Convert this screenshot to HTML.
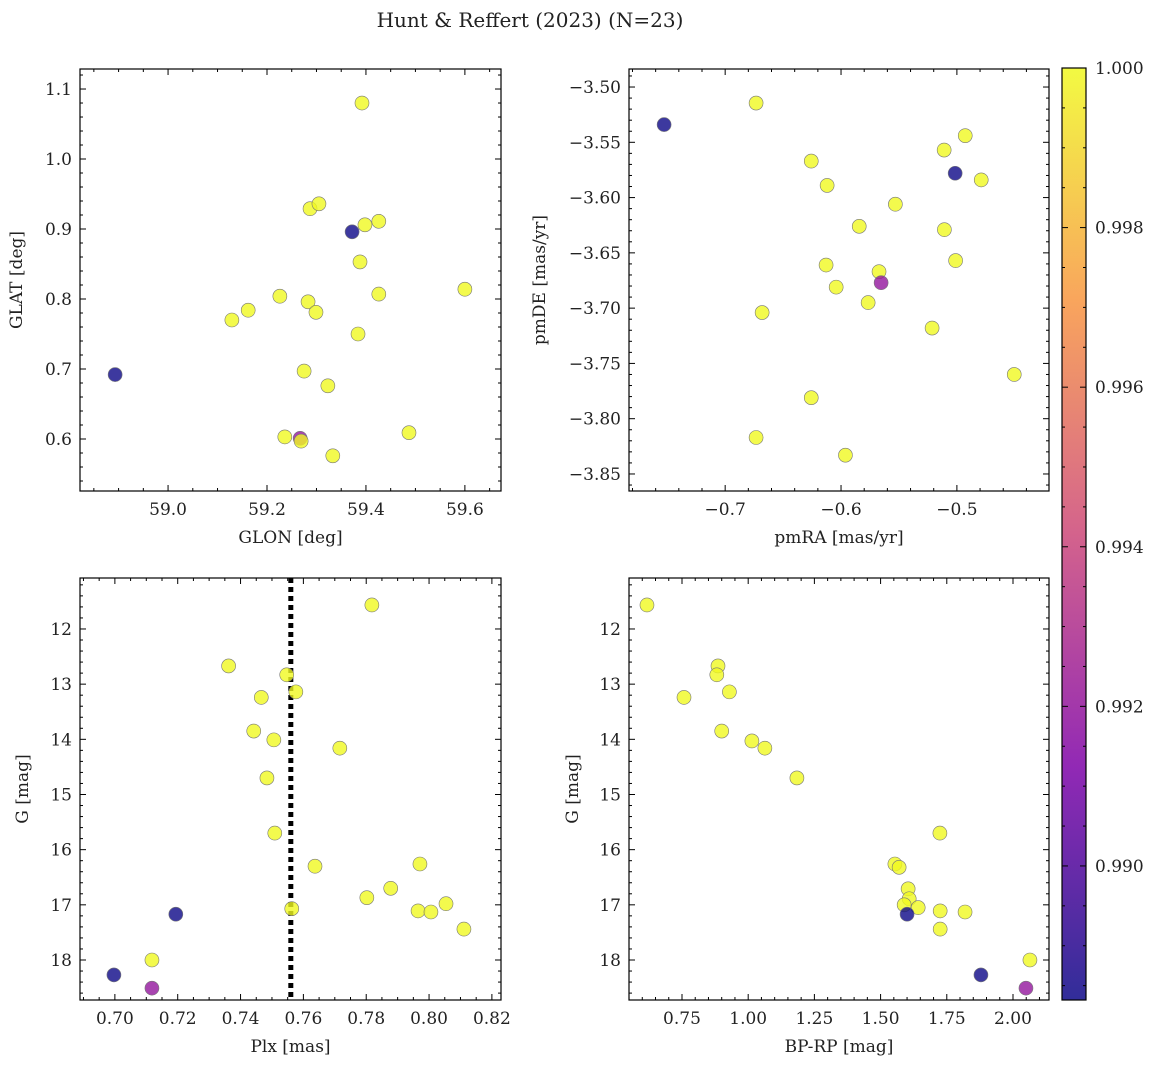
<!DOCTYPE html>
<html><head><meta charset="utf-8"><style>
body{margin:0;background:#fff}
svg text{font-family:"DejaVu Serif","Liberation Serif",serif;fill:#222}
</style></head><body>
<svg id="c" width="1161" height="1068" xmlns="http://www.w3.org/2000/svg">
<text x="530" y="27" font-size="20" text-anchor="middle">Hunt &amp; Reffert (2023) (N=23)</text>
</svg>
<script>
const glon=[59.392,59.287,59.305,59.372,59.398,59.426,59.388,59.226,59.162,59.129,59.283,59.299,59.426,59.600,59.384,59.275,59.323,58.893,59.236,59.267,59.269,59.333,59.487];
const glat=[1.080,0.929,0.936,0.896,0.906,0.911,0.853,0.804,0.784,0.770,0.796,0.781,0.807,0.814,0.750,0.697,0.676,0.692,0.603,0.601,0.597,0.576,0.609];
const probTL=[1,1,1,0.9883,1,1,1,1,1,1,1,1,1,1,1,1,1,0.9883,1,0.992,1,1,1];
const pmra=[-0.6733,-0.7527,-0.4928,-0.5110,-0.6257,-0.5015,-0.4790,-0.6120,-0.5531,-0.5843,-0.5108,-0.5011,-0.6129,-0.5672,-0.5654,-0.6042,-0.5766,-0.6681,-0.5214,-0.4505,-0.6257,-0.6733,-0.5962];
const pmde=[-3.5145,-3.534,-3.544,-3.557,-3.567,-3.578,-3.584,-3.589,-3.606,-3.626,-3.629,-3.657,-3.661,-3.667,-3.677,-3.681,-3.695,-3.704,-3.718,-3.760,-3.781,-3.817,-3.833];
const probTR=[1,0.9883,1,1,1,0.9883,1,1,1,1,1,1,1,1,0.992,1,1,1,1,1,1,1,1];
const plx=[0.7818,0.7362,0.7547,0.7466,0.7576,0.7442,0.7506,0.7716,0.7484,0.7509,0.7971,0.7637,0.7878,0.7802,0.7563,0.7965,0.8006,0.8054,0.8111,0.7194,0.7118,0.6997,0.7118];
const gBL=[11.565,12.67,12.83,13.24,13.14,13.85,14.01,14.16,14.70,15.70,16.26,16.30,16.70,16.87,17.07,17.11,17.13,16.98,17.44,17.17,18.0,18.27,18.51];
const probBL=[1,1,1,1,1,1,1,1,1,1,1,1,1,1,1,1,1,1,1,0.9883,1,0.9883,0.992];
const bprp=[0.6178,0.886,0.8815,0.929,0.7576,0.900,1.014,1.063,1.184,1.724,1.554,1.570,1.604,1.608,1.589,1.642,1.725,1.819,1.725,1.600,2.064,1.879,2.049];
const gBR=[11.565,12.67,12.83,13.14,13.24,13.85,14.03,14.16,14.70,15.70,16.26,16.32,16.71,16.89,17.0,17.05,17.11,17.13,17.44,17.17,18.0,18.27,18.51];
const probBR=[1,1,1,1,1,1,1,1,1,1,1,1,1,1,1,1,1,1,1,0.9883,1,0.9883,0.992];
const plxMean=[0.756];
const cbTicks=[0.990,0.992,0.994,0.996,0.998,1.000];
const svg=document.getElementById('c');
const NS='http://www.w3.org/2000/svg';
function el(t,a,p){const e=document.createElementNS(NS,t);for(const k in a)e.setAttribute(k,a[k]);(p||svg).appendChild(e);return e;}
const stops=[[0,[13,8,135]],[0.25,[126,3,168]],[0.5,[204,71,120]],[0.75,[248,149,64]],[1,[240,249,33]]];
const cmin=0.98832,cmax=1.0;
function plasma(v){let t=(v-cmin)/(cmax-cmin);t=Math.max(0,Math.min(1,t));for(let i=0;i<stops.length-1;i++){const a=stops[i],b=stops[i+1];if(t<=b[0]){const f=(t-a[0])/(b[0]-a[0]);return 'rgb('+a[1].map((c,j)=>Math.round(c+(b[1][j]-c)*f)).join(',')+')';}}return 'rgb(240,249,33)';}
function panel(o){
 const {x0,x1,y0,y1,xmin,xmax,ymin,ymax,inv}=o;
 const X=v=>x0+(v-xmin)/(xmax-xmin)*(x1-x0);
 const Y=v=>inv? y0+(v-ymin)/(ymax-ymin)*(y1-y0) : y1-(v-ymin)/(ymax-ymin)*(y1-y0);
 const g=el('g',{});
 
 
 if(o.vline){const l=el('line',{x1:X(o.vline[0]),x2:X(o.vline[0]),y1:y0,y2:y1,stroke:'#000','stroke-width':5,'stroke-dasharray':'5,4'},g);
  
  }
 for(let i=0;i<o.xs.length;i++){const c=el('circle',{cx:X(o.xs[i]),cy:Y(o.ys[i]),r:7,fill:plasma(o.p[i]),'fill-opacity':0.8,stroke:'#777','stroke-width':0.6},g);
  
  }
 const f=el('rect',{x:x0,y:y0,width:x1-x0,height:y1-y0,fill:'none',stroke:'#000','stroke-width':1.2},g);
 
 
 const ticks=(min,max,step,n,cb)=>{const s=step/n;for(let k=Math.ceil(min/s-1e-6);k*s<=max+1e-9;k++){const v=k*s;const major=Math.abs(k%n)===0;cb(v,major);}};
 ticks(xmin,xmax,o.xs_step,o.xn,(v,m)=>{const px=X(v),L=m?6:3;
  el('line',{x1:px,x2:px,y1:y1,y2:y1-L,stroke:'#000'},g);el('line',{x1:px,x2:px,y1:y0,y2:y0+L,stroke:'#000'},g);
  if(m){const t=el('text',{x:px,y:y1+24,'font-size':17,'text-anchor':'middle'},g);t.textContent=o.xf(v);
   
   }});
 ticks(ymin,ymax,o.ys_step,o.yn,(v,m)=>{const py=Y(v),L=m?6:3;
  el('line',{x1:x0,x2:x0+L,y1:py,y2:py,stroke:'#000'},g);el('line',{x1:x1,x2:x1-L,y1:py,y2:py,stroke:'#000'},g);
  if(m){const t=el('text',{x:x0-8,y:py+6,'font-size':17,'text-anchor':'end'},g);t.textContent=o.yf(v);
   
   }});
 const xl=el('text',{x:(x0+x1)/2,y:y1+52,'font-size':17,'text-anchor':'middle'},g);xl.textContent=o.xlab;
 
 
 const yl=el('text',{x:0,y:0,'font-size':17,'text-anchor':'middle',transform:`translate(${o.ylx},${(y0+y1)/2}) rotate(-90)`},g);yl.textContent=o.ylab;
 
 
}
const m=s=>s.replace('-','\u2212');
panel({name:'glon-glat-panel',x0:80,x1:501,y0:69,y1:491,xmin:58.822,xmax:59.673,ymin:0.5257,ymax:1.1286,xs:glon,ys:glat,p:probTL,xs_step:0.2,xn:4,ys_step:0.1,yn:5,xf:v=>v.toFixed(1),yf:v=>v.toFixed(1),xlab:'GLON [deg]',ylab:'GLAT [deg]',ylx:22});
panel({name:'proper-motion-panel',x0:629,x1:1049,y0:69,y1:491,xmin:-0.783,xmax:-0.4205,ymin:-3.8654,ymax:-3.4837,xs:pmra,ys:pmde,p:probTR,xs_step:0.1,xn:5,ys_step:0.05,yn:5,xf:v=>m(v.toFixed(1)),yf:v=>m(v.toFixed(2)),xlab:'pmRA [mas/yr]',ylab:'pmDE [mas/yr]',ylx:545});
panel({name:'parallax-mag-panel',x0:80,x1:501,y0:578,y1:1000,xmin:0.6889,xmax:0.8229,ymin:11.076,ymax:18.725,inv:true,xs:plx,ys:gBL,p:probBL,xs_step:0.02,xn:4,ys_step:1,yn:5,xf:v=>v.toFixed(2),yf:v=>v.toFixed(0),xlab:'Plx [mas]',ylab:'G [mag]',ylx:28,vline:plxMean});
panel({name:'cmd-panel',x0:629,x1:1049,y0:578,y1:1000,xmin:0.5499,xmax:2.136,ymin:11.076,ymax:18.725,inv:true,xs:bprp,ys:gBR,p:probBR,xs_step:0.25,xn:5,ys_step:1,yn:5,xf:v=>v.toFixed(2),yf:v=>v.toFixed(0),xlab:'BP-RP [mag]',ylab:'G [mag]',ylx:578});
const cb=el('g',{});


const defs=el('defs',{},cb);const lg=el('linearGradient',{id:'pl',x1:0,y1:1,x2:0,y2:0},defs);
for(let i=0;i<=20;i++){el('stop',{offset:i/20,'stop-color':plasma(cmin+(cmax-cmin)*i/20),'stop-opacity':0.85},lg);}
const cy0=68,cy1=1000,CY=v=>cy1-(v-cmin)/(cmax-cmin)*(cy1-cy0);
el('rect',{x:1062,y:cy0,width:24,height:cy1-cy0,fill:'url(#pl)',stroke:'#000','stroke-width':1.2},cb);
for(let k=Math.ceil(cmin/0.0005);k*0.0005<=cmax+1e-9;k++){const v=k*0.0005,py=CY(v),maj=k%4===0;
 el('line',{x1:1086,x2:1086-(maj?6:3),y1:py,y2:py,stroke:'#000'},cb);el('line',{x1:1062,x2:1062+(maj?6:3),y1:py,y2:py,stroke:'#000'},cb);}
cbTicks.forEach(v=>{const t=el('text',{x:1095,y:CY(v)+6,'font-size':17},cb);t.textContent=v.toFixed(3);
 
 });
</script>
</body></html>
